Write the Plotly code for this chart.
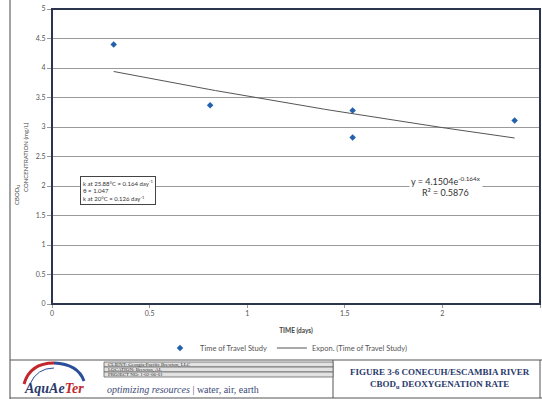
import numpy as np
import plotly.graph_objects as go

# Time of travel study observations
time_days = [0.316, 0.81, 1.54, 1.54, 2.37]
cbod_mgL = [4.40, 3.37, 3.28, 2.82, 3.11]

# Exponential fit of the observations: y = A * exp(-k x)
fit_a = 4.1504
fit_k = 0.164
fit_r2 = 0.5876

x_ticks = [0, 0.5, 1, 1.5, 2, 2.5]
y_ticks = [0, 0.5, 1, 1.5, 2, 2.5, 3, 3.5, 4, 4.5, 5]

W, H = 542, 399
L, R, T, B = 52, 540, 9, 304


def px(x):
    return (x - L) / (R - L)


def py(y):
    return (B - y) / (B - T)


NAVY = "#2b3a6b"
fig = go.Figure()

fig.add_trace(go.Scatter(
    x=time_days, y=cbod_mgL, mode="markers", name="Time of Travel Study",
    marker=dict(symbol="diamond", size=5, color="#2161ad"),
))

xfit = np.linspace(min(time_days), max(time_days), 60)
fig.add_trace(go.Scatter(
    x=xfit, y=fit_a * np.exp(-fit_k * xfit), mode="lines",
    name="Expon. (Time of Travel Study)",
    line=dict(color="#555555", width=1),
))

font_main = "Lato, 'Open Sans', sans-serif"
fig.update_layout(
    width=W, height=H,
    margin=dict(l=L, r=W - R, t=T, b=H - B),
    paper_bgcolor="white", plot_bgcolor="white",
    font=dict(family=font_main, size=7, color="#555555"),
    showlegend=True,
    legend=dict(orientation="h", x=px(160), xanchor="left",
                y=py(348), yanchor="middle",
                font=dict(size=7.5, color="#555555"),
                bgcolor="rgba(0,0,0,0)", itemwidth=30),
    xaxis=dict(range=[0, 2.5], tickvals=x_ticks,
               ticktext=[f"{v:g}" for v in x_ticks],
               showgrid=False, zeroline=False, showline=False,
               ticks="outside", ticklen=3, tickcolor="#999999",
               title=dict(text="<b>TIME (days)</b>", standoff=12,
                          font=dict(size=6.5, color="#444444"))),
    yaxis=dict(range=[0, 5], tickvals=y_ticks,
               ticktext=[f"{v:g}" for v in y_ticks],
               showgrid=True, gridcolor="#9a9a9a", gridwidth=1,
               zeroline=False, showline=False,
               ticks="outside", ticklen=4, tickcolor="#999999"),
)

# Plot-area frame
fig.add_shape(type="rect", xref="paper", yref="paper", x0=0, x1=1, y0=0, y1=1,
              line=dict(color="#2b3550", width=2))


def note(x, y, text, size, color="#444444", family=None, xanchor="center",
         yanchor="middle", **kw):
    f = dict(size=size, color=color)
    if family:
        f["family"] = family
    fig.add_annotation(xref="paper", yref="paper", x=px(x), y=py(y), text=text,
                       xanchor=xanchor, yanchor=yanchor, showarrow=False,
                       font=f, **kw)


# Y-axis title in two parts
note(25, 157, "CONCENTRATION (mg/L)", 6, textangle=-90)
note(17, 195, "CBOD<sub>U</sub>", 6, textangle=-90)

# Rate constants box
note(80, 190,
     "k at 25.88°C = 0.164 day<sup>-1</sup><br>θ = 1.047<br>k at 20°C = 0.126 day<sup>-1</sup>",
     6, color="#333333", xanchor="left", align="left", bgcolor="white",
     bordercolor="#444444", borderwidth=1, borderpad=2)

# Trendline equation
fig.add_annotation(
    xref="x", yref="y", x=2.02, y=2.0, xanchor="center", yanchor="middle",
    text=f"y = {fit_a:.4f}e<sup>-{fit_k:g}x</sup><br>R² = {fit_r2:.4f}",
    showarrow=False, bgcolor="white", font=dict(size=9, color="#333333"))


# Sheet frame and title block
def hline(y, x0, x1, w=1, c="#555555"):
    fig.add_shape(type="line", xref="paper", yref="paper", x0=px(x0), x1=px(x1),
                  y0=py(y), y1=py(y), line=dict(color=c, width=w))


def vline(x, y0, y1, w=1, c="#555555"):
    fig.add_shape(type="line", xref="paper", yref="paper", x0=px(x), x1=px(x),
                  y0=py(y0), y1=py(y1), line=dict(color=c, width=w))


vline(10, 0, 399, 1.2, "#666666")
hline(360, 10, 542, 1.2, "#555555")
hline(398, 10, 542, 1.2, "#555555")
vline(333, 360, 398, 1, "#555555")
vline(540, 360, 398, 1, "#555555")

# Project info rows
rows = ["CLIENT: Georgia-Pacific Brewton, LLC", "LOCATION: Brewton, AL",
        "PROJECT NO: 1-02-06-01"]
for i, txt in enumerate(rows):
    y0 = 362 + i * 5
    fig.add_shape(type="rect", xref="paper", yref="paper", x0=px(104), x1=px(333),
                  y0=py(y0), y1=py(y0 + 5), line=dict(color="#666666", width=0.8),
                  fillcolor="#e2e2e2")
    note(106, y0 + 2.5, txt, 5, color="#333333", family="Liberation Serif",
         xanchor="left")

note(105, 389, "<i>optimizing resources</i> | water, air, earth", 10,
     color="#3c4a78", family="Liberation Serif", xanchor="left")

# Logo arc and name
fig.add_shape(type="path", xref="paper", yref="paper",
              path=f"M {px(24)},{py(384)} Q {px(30)},{py(363)} {px(54)},{py(363)}",
              line=dict(color="#c0282d", width=3))
fig.add_shape(type="path", xref="paper", yref="paper",
              path=f"M {px(54)},{py(363)} Q {px(78)},{py(364)} {px(84)},{py(381)}",
              line=dict(color="#2b4e9a", width=3))
fig.add_shape(type="path", xref="paper", yref="paper",
              path=f"M {px(30)},{py(384)} Q {px(37)},{py(368)} {px(54)},{py(368)}",
              line=dict(color="#2b4e9a", width=1))
note(54, 388, "<b><i>AquAe<span style='color:#c0282d'>Ter</span></i></b>", 14,
     color=NAVY, family="Liberation Serif")

# Figure title
note(440, 378,
     "<b>FIGURE 3-6 CONECUH/ESCAMBIA RIVER<br>CBOD<sub>u</sub> DEOXYGENATION RATE</b>",
     9, color=NAVY, family="Liberation Serif")

fig.write_html("out.html")
